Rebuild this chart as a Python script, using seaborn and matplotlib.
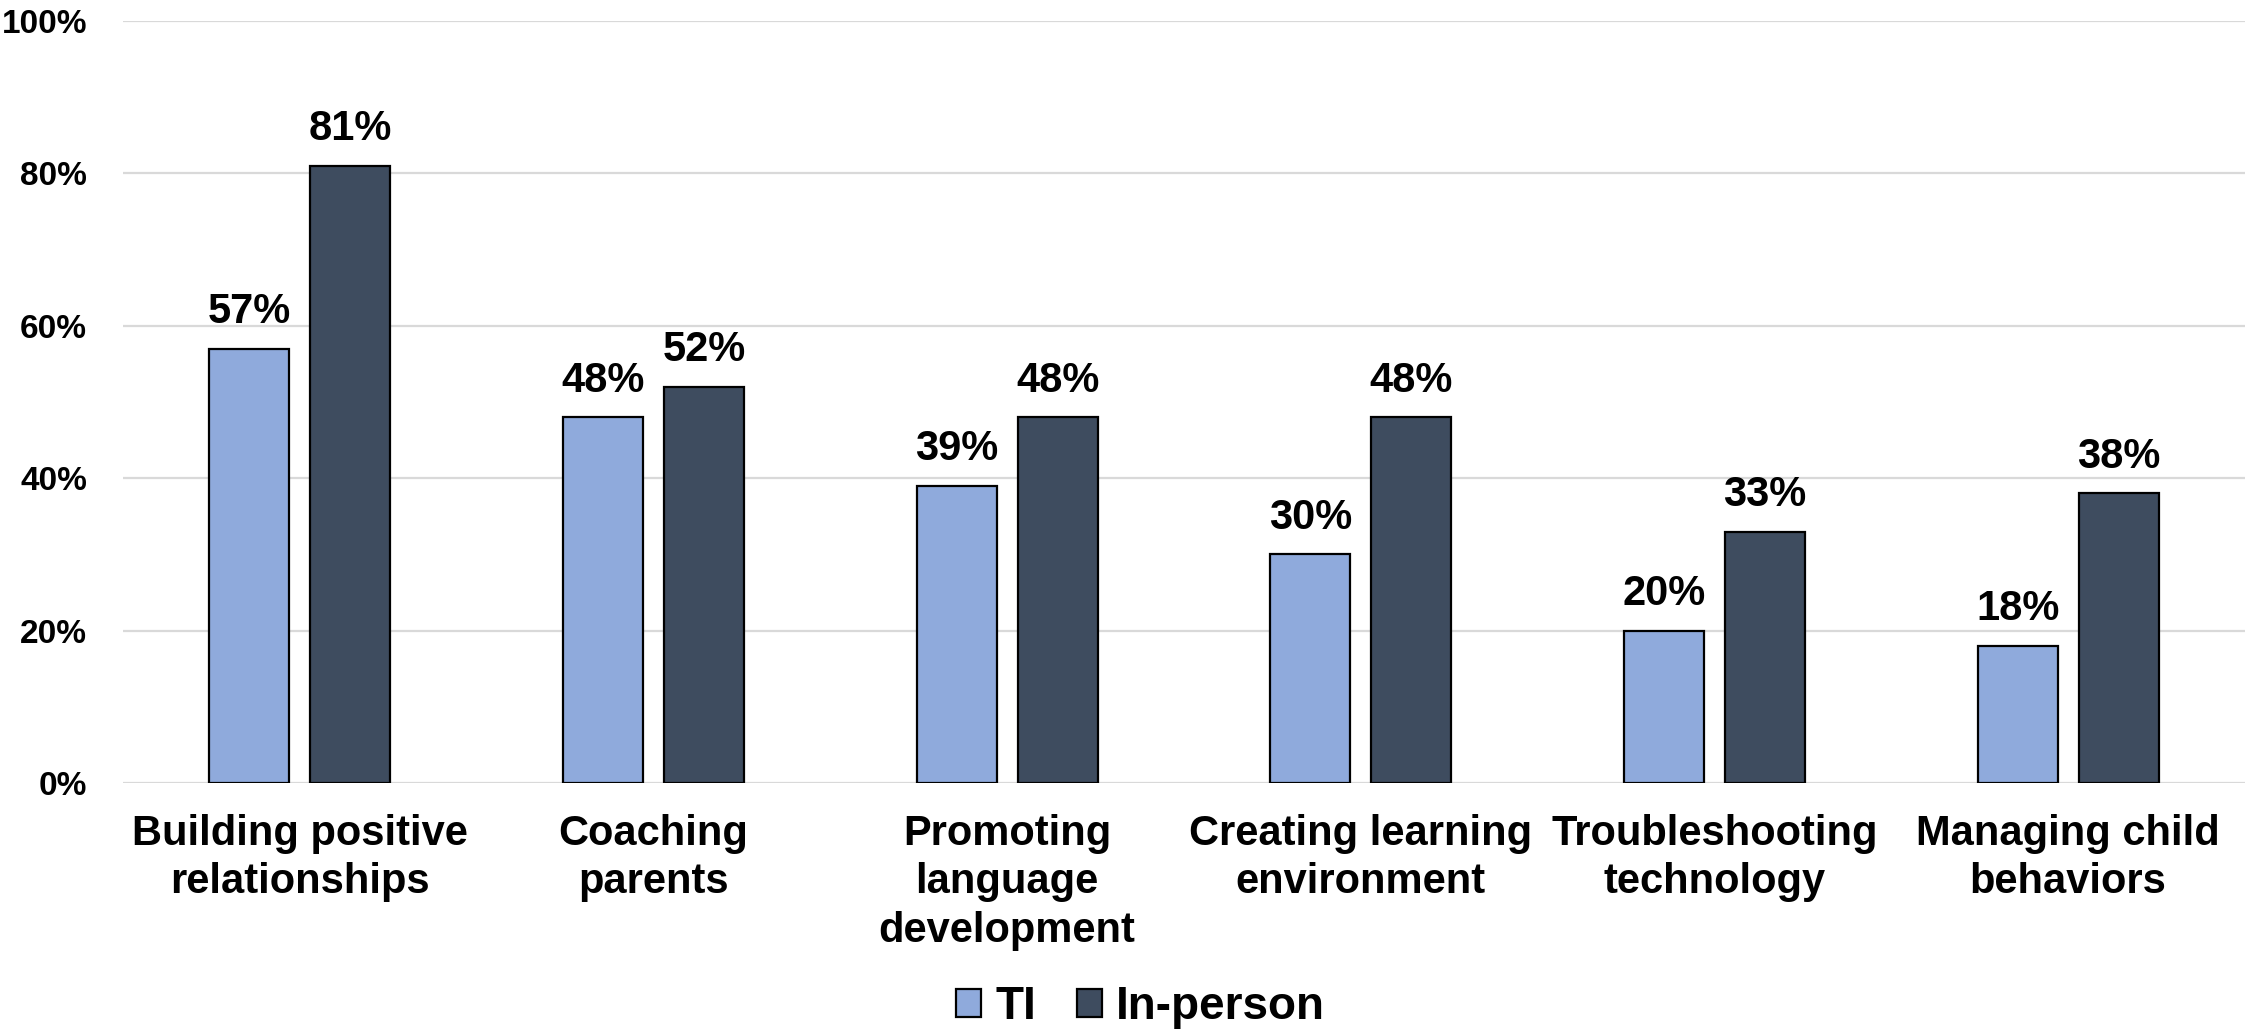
import matplotlib
matplotlib.use("Agg")
import matplotlib.pyplot as plt
import seaborn as sns
import pandas as pd
from matplotlib.patches import Patch
from matplotlib.ticker import FuncFormatter

categories = ["Building positive\nrelationships", "Coaching\nparents",
              "Promoting\nlanguage\ndevelopment", "Creating learning\nenvironment",
              "Troubleshooting\ntechnology", "Managing child\nbehaviors"]
series_names = ["TI", "In-person"]
ti_values = [57, 48, 39, 30, 20, 18]
inperson_values = [81, 52, 48, 48, 33, 38]
colors = ["#8FAADC", "#3E4C5F"]

df = pd.DataFrame({
    "category": categories * 2,
    "series": [series_names[0]] * len(categories) + [series_names[1]] * len(categories),
    "value": ti_values + inperson_values,
})

sns.set_theme(style="white")
plt.rcParams["font.family"] = ["Liberation Sans", "DejaVu Sans"]
plt.rcParams["font.weight"] = "bold"
plt.rcParams["text.color"] = "black"
plt.rcParams["xtick.color"] = "black"
plt.rcParams["ytick.color"] = "black"

fig = plt.figure(figsize=(22.54, 10.30), dpi=100)
ax = fig.add_axes([123 / 2254, 1 - 783 / 1030, (2245 - 123) / 2254, (783 - 21) / 1030])

sns.barplot(data=df, x="category", y="value", hue="series", order=categories,
            hue_order=series_names, palette=colors, saturation=1, width=0.571, gap=0.21,
            edgecolor="black", linewidth=1.6, ax=ax, legend=False, zorder=3)

ax.set_ylim(0, 100)
ax.set_xlim(-0.5, len(categories) - 0.5)
ax.set_yticks([0, 20, 40, 60, 80, 100])
ax.yaxis.set_major_formatter(FuncFormatter(lambda v, p: f"{int(v)}%"))
ax.grid(axis="y", color="#D9D9D9", linewidth=1.6, zorder=0)
ax.set_axisbelow(True)
for s in ax.spines.values():
    s.set_visible(False)
ax.set_xlabel("")
ax.set_ylabel("")
ax.tick_params(axis="y", length=0, pad=26, labelsize=24, labelcolor="black")
ax.tick_params(axis="x", length=0, pad=22, labelsize=30, labelcolor="black")
for lbl in ax.get_yticklabels() + ax.get_xticklabels():
    lbl.set_fontweight("bold")
for lbl in ax.get_xticklabels():
    lbl.set_linespacing(1.28)

for cont in ax.containers:
    ax.bar_label(cont, labels=[f"{int(round(v))}%" for v in cont.datavalues],
                 padding=12, fontsize=30, fontweight="bold", color="black")

handles = [Patch(facecolor=c, edgecolor="black", linewidth=1.6, label=n)
           for c, n in zip(colors, series_names)]
fig.legend(handles=handles, loc="center", bbox_to_anchor=(0.506, 0.022), ncol=2,
           frameon=False, prop={"size": 33, "weight": "bold"},
           handlelength=0.55, handleheight=0.55, handletextpad=0.3, columnspacing=0.9)

fig.savefig("out.png", dpi=100)
